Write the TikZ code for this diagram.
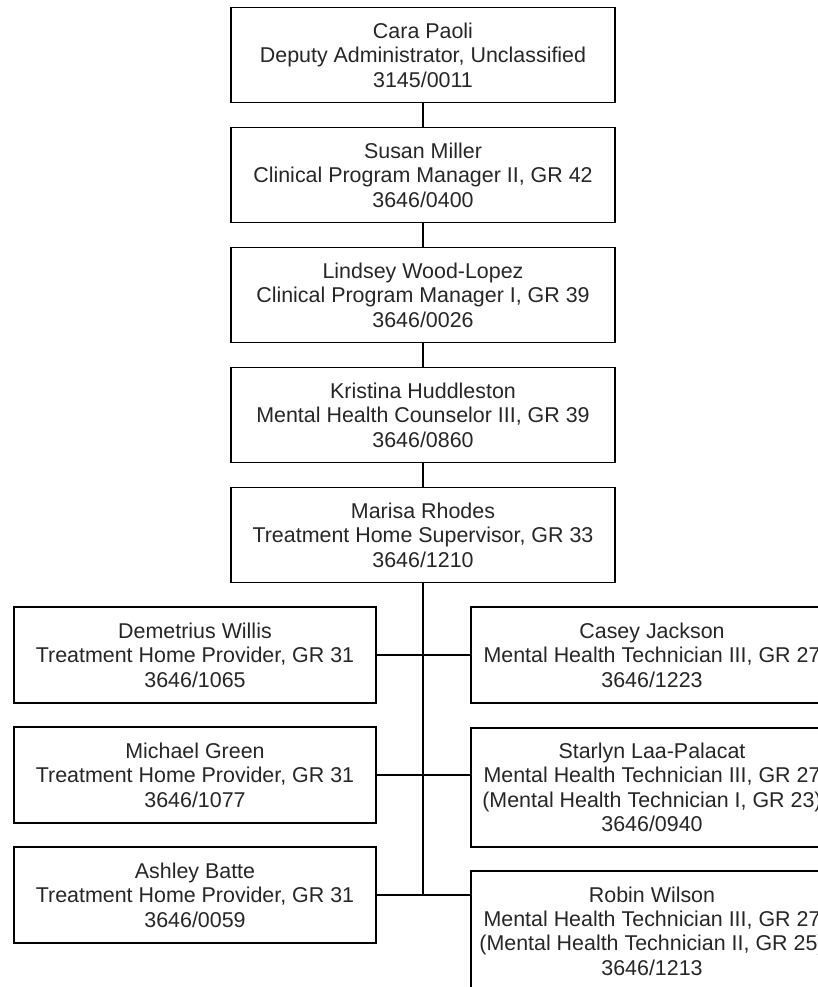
\documentclass[tikz,border=0pt]{standalone}
\usepackage{fontspec}
\setmainfont{Liberation Sans}
\usetikzlibrary{calc}

\begin{document}
\begin{tikzpicture}[x=1bp, y=-1bp,
    post/.style={draw, line width=1.6bp, align=center, inner sep=0pt,
        font=\fontsize{21.5}{24.5}\selectfont, text=black!85},
    chief/.style={post, minimum width=384bp, minimum height=95bp},
    staff/.style={post, minimum width=362bp, minimum height=96bp},
    tech/.style={post, minimum width=362bp}]
    \useasboundingbox (0,0) rectangle (818,987);

    % chain of supervisors
    \node[chief] (paoli) at (423,55) {Cara Paoli\\Deputy Administrator, Unclassified\\3145/0011};
    \node[chief] (miller) at (423,175) {Susan Miller\\Clinical Program Manager II, GR 42\\3646/0400};
    \node[chief] (woodlopez) at (423,295) {Lindsey Wood-Lopez\\Clinical Program Manager I, GR 39\\3646/0026};
    \node[chief] (huddleston) at (423,415) {Kristina Huddleston\\Mental Health Counselor III, GR 39\\3646/0860};
    \node[chief] (rhodes) at (423,535) {Marisa Rhodes\\Treatment Home Supervisor, GR 33\\3646/1210};

    % providers on the left
    \node[staff] (willis) at (195,655) {Demetrius Willis\\Treatment Home Provider, GR 31\\3646/1065};
    \node[staff] (green) at (195,775) {Michael Green\\Treatment Home Provider, GR 31\\3646/1077};
    \node[staff] (batte) at (195,895) {Ashley Batte\\Treatment Home Provider, GR 31\\3646/0059};

    % technicians on the right
    \node[tech, minimum height=96bp] (jackson) at (652,655) {Casey Jackson\\Mental Health Technician III, GR 27\\3646/1223};
    \node[tech, minimum height=119bp] (palacat) at (652,787.5) {Starlyn Laa-Palacat\\Mental Health Technician III, GR 27\\(Mental Health Technician I, GR 23)\\3646/0940};
    \node[tech, minimum height=120bp] (wilson) at (652,931) {Robin Wilson\\Mental Health Technician III, GR 27\\(Mental Health Technician II, GR 25)\\3646/1213};

    \coordinate (spine) at (rhodes.south |- batte.east);

    \draw[line width=1.6bp] (paoli)--(miller)--(woodlopez)--(huddleston)--(rhodes);
    \draw[line width=1.6bp] (rhodes.south)--(spine);

    \draw[line width=1.6bp] (willis.east)--(jackson.west |- willis.east);
    \draw[line width=1.6bp] (green.east)--(palacat.west |- green.east);
    \draw[line width=1.6bp] (batte.east)--(wilson.west |- batte.east);
\end{tikzpicture}
\end{document}
